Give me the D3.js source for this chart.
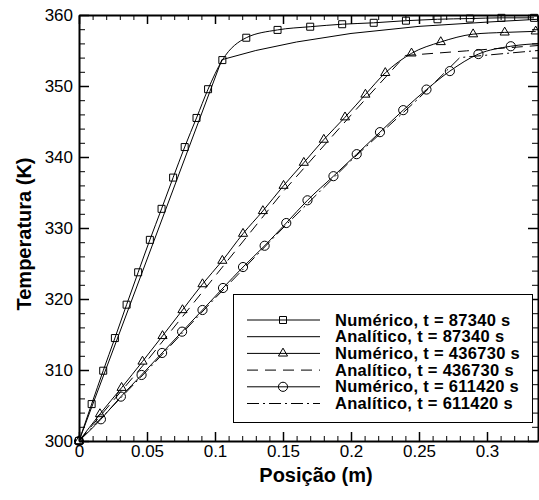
<!DOCTYPE html>
<html>
<head>
<meta charset="utf-8">
<script src="https://cdn.jsdelivr.net/npm/d3@7"></script>
<style>
  body { margin: 0; background: #fff; }
  text { font-family: "Liberation Sans", Arial, sans-serif; fill: #000; }
</style>
</head>
<body>
<div id="chart"></div>
<script>
const width = 539;
const height = 500;
const margin = {top: 15, right: 1, bottom: 59, left: 79};

// x (m), T (K)
const num87340 = [[0, 300], [0.0093, 305.2], [0.0178, 309.9], [0.0264, 314.5], [0.035, 319.2], [0.0435, 323.76],
    [0.0521, 328.33], [0.0607, 332.7], [0.0692, 337.1], [0.0777, 341.4], [0.0864, 345.5], [0.0949, 349.55],
    [0.1054, 353.65], [0.123, 356.8], [0.146, 357.9], [0.170, 358.35], [0.1935, 358.7], [0.2167, 358.9],
    [0.2404, 359.2], [0.2636, 359.4], [0.2874, 359.5], [0.3106, 359.6], [0.3346, 359.6]];
const ana87340 = [[0, 300], [0.105, 353.7], [0.13, 355.0], [0.16, 356.2], [0.2, 357.4], [0.25, 358.4],
    [0.3, 359.0], [0.3375, 359.4]];
const num436730 = [[0, 300], [0.0154, 303.8], [0.0313, 307.5], [0.0467, 311.2], [0.0614, 314.8], [0.0761, 318.45],
    [0.0908, 322.1], [0.1054, 325.4], [0.1206, 329.2], [0.1352, 332.4], [0.1504, 335.96], [0.1653, 339.2],
    [0.180, 342.45], [0.1956, 345.6], [0.2106, 348.8], [0.2252, 351.85], [0.2445, 354.6], [0.266, 356.2],
    [0.2898, 357.3], [0.313, 357.55], [0.3358, 357.7]];
const ana436730 = [[0, 300], [0.05, 311.3], [0.1, 323.2], [0.15, 335.1], [0.2, 345.9], [0.24, 354.3],
    [0.285, 354.95], [0.3375, 355.7]];
const num611420 = [[0, 300], [0.0161, 303.06], [0.0308, 306.25], [0.046, 309.3], [0.0611, 312.4], [0.0758, 315.4],
    [0.0908, 318.45], [0.1059, 321.55], [0.1206, 324.5], [0.1365, 327.5], [0.1524, 330.7], [0.168, 333.9],
    [0.1871, 337.3], [0.2042, 340.4], [0.2213, 343.5], [0.2384, 346.6], [0.2555, 349.5], [0.2727, 352.1],
    [0.2937, 354.5], [0.3175, 355.6], [0.3413, 356.0]];
const ana611420 = [[0, 300], [0.05, 309.9], [0.1, 320.1], [0.15, 330.0], [0.2, 339.5], [0.25, 348.3],
    [0.28, 354.0], [0.3375, 355.0]];

const xTicks = [0, 0.05, 0.1, 0.15, 0.2, 0.25, 0.3];
const xTickLabels = ["0", "0.05", "0.1", "0.15", "0.2", "0.25", "0.3"];
const yTicks = [300, 310, 320, 330, 340, 350, 360];
const yTickLabels = ["300", "310", "320", "330", "340", "350", "360"];
const xMinor = d3.range(0, 34).map(i => i / 100);
const yMinor = d3.range(300, 361, 2);

const series = [
    {label: "Numérico, t = 87340 s", data: num87340, marker: "square", dash: null},
    {label: "Analítico, t = 87340 s", data: ana87340, marker: null, dash: null},
    {label: "Numérico, t = 436730 s", data: num436730, marker: "triangle", dash: null},
    {label: "Analítico, t = 436730 s", data: ana436730, marker: null, dash: "11,7"},
    {label: "Numérico, t = 611420 s", data: num611420, marker: "circle", dash: null},
    {label: "Analítico, t = 611420 s", data: ana611420, marker: null, dash: "12,4,2,4"}
];

const x = d3.scaleLinear().domain([0, 0.3375]).range([margin.left, width - margin.right]);
const y = d3.scaleLinear().domain([300, 360]).range([height - margin.bottom, margin.top]);

const svg = d3.select("#chart")
    .append("svg")
        .attr("width", width)
        .attr("height", height)
        .attr("viewBox", [0, 0, width, height]);

svg.append("defs").append("clipPath")
        .attr("id", "plot")
    .append("rect")
        .attr("x", x(0))
        .attr("y", y(360))
        .attr("width", x(0.3375) - x(0))
        .attr("height", y(300) - y(360));

const markerPath = {
    square: d3.symbol(d3.symbolSquare, 49),
    triangle: d3.symbol(d3.symbolTriangle, 36),
    circle: d3.symbol(d3.symbolCircle, 66)
};

function drawMarker(g, type, cx, cy) {
    g.append("path")
        .attr("d", markerPath[type]())
        .attr("transform", "translate(" + cx + "," + cy + ")")
        .attr("fill", "none")
        .attr("stroke", "#000")
        .attr("stroke-width", 1);
}

const line = d3.line().x(d => x(d[0])).y(d => y(d[1]));
const smooth = d3.line().x(d => x(d[0])).y(d => y(d[1])).curve(d3.curveMonotoneX);

const curves = svg.append("g").attr("clip-path", "url(#plot)");
series.forEach(s => {
    curves.append("path")
        .attr("d", s.marker ? smooth(s.data) : line(s.data))
        .attr("fill", "none")
        .attr("stroke", "#000")
        .attr("stroke-width", 1)
        .attr("stroke-dasharray", s.dash);
});

const marks = svg.append("g");
series.filter(s => s.marker).forEach(s => {
    s.data.filter(d => d[0] <= 0.3375).forEach(d => drawMarker(marks, s.marker, x(d[0]), y(d[1])));
});

// axes, ticks pointing inward
function styleAxis(g) {
    g.select(".domain").attr("stroke-width", 2);
    g.selectAll(".tick line").attr("stroke-width", 1.5);
    g.selectAll(".tick text").style("font-size", "17px").attr("font-family", "Liberation Sans, Arial, sans-serif");
}

function minor(g) {
    g.select(".domain").remove();
    g.selectAll("line").attr("stroke-width", 1);
}

svg.append("g")
    .attr("transform", "translate(0," + y(300) + ")")
    .call(d3.axisBottom(x).tickValues(xMinor).tickFormat("").tickSize(-5).tickSizeOuter(0))
    .call(minor);
svg.append("g")
    .attr("transform", "translate(0," + y(360) + ")")
    .call(d3.axisTop(x).tickValues(xMinor).tickFormat("").tickSize(-5).tickSizeOuter(0))
    .call(minor);
svg.append("g")
    .attr("transform", "translate(" + x(0) + ",0)")
    .call(d3.axisLeft(y).tickValues(yMinor).tickFormat("").tickSize(-6).tickSizeOuter(0))
    .call(minor);
svg.append("g")
    .attr("transform", "translate(" + x(0.3375) + ",0)")
    .call(d3.axisRight(y).tickValues(yMinor).tickFormat("").tickSize(-6).tickSizeOuter(0))
    .call(minor);

svg.append("g")
    .attr("transform", "translate(0," + y(300) + ")")
    .call(d3.axisBottom(x).tickValues(xTicks).tickFormat((d, i) => xTickLabels[i]).tickSize(-9).tickSizeOuter(0).tickPadding(4))
    .call(styleAxis);
svg.append("g")
    .attr("transform", "translate(0," + y(360) + ")")
    .call(d3.axisTop(x).tickValues(xTicks).tickFormat("").tickSize(-9).tickSizeOuter(0))
    .call(styleAxis);
svg.append("g")
    .attr("transform", "translate(" + x(0) + ",0)")
    .call(d3.axisLeft(y).tickValues(yTicks).tickFormat((d, i) => yTickLabels[i]).tickSize(-10).tickSizeOuter(0).tickPadding(6))
    .call(styleAxis);
svg.append("g")
    .attr("transform", "translate(" + x(0.3375) + ",0)")
    .call(d3.axisRight(y).tickValues(yTicks).tickFormat("").tickSize(-10).tickSizeOuter(0))
    .call(styleAxis);

// axis titles
svg.append("text")
    .attr("x", 316)
    .attr("y", 482)
    .attr("text-anchor", "middle")
    .style("font-size", "20px")
    .style("font-weight", "bold")
    .text("Posição (m)");

svg.append("text")
    .attr("transform", "translate(31,234) rotate(-90)")
    .attr("text-anchor", "middle")
    .style("font-size", "20px")
    .style("font-weight", "bold")
    .text("Temperatura (K)");

// legend
const legend = svg.append("g");
legend.append("rect")
    .attr("x", 233.5)
    .attr("y", 294.5)
    .attr("width", 299)
    .attr("height", 128)
    .attr("fill", "#fff")
    .attr("stroke", "#000")
    .attr("stroke-width", 1);

series.forEach((s, i) => {
    const cy = 320 + i * 16.7;
    legend.append("line")
        .attr("x1", 247).attr("x2", 320)
        .attr("y1", cy).attr("y2", cy)
        .attr("stroke", "#000")
        .attr("stroke-width", 1)
        .attr("stroke-dasharray", s.dash);
    if (s.marker) drawMarker(legend, s.marker, 283, cy);
    legend.append("text")
        .attr("x", 335)
        .attr("y", cy + 5.5)
        .style("font-size", "16.5px")
        .style("font-weight", "bold")
        .style("letter-spacing", "0.3px")
        .text(s.label);
});
</script>
</body>
</html>
